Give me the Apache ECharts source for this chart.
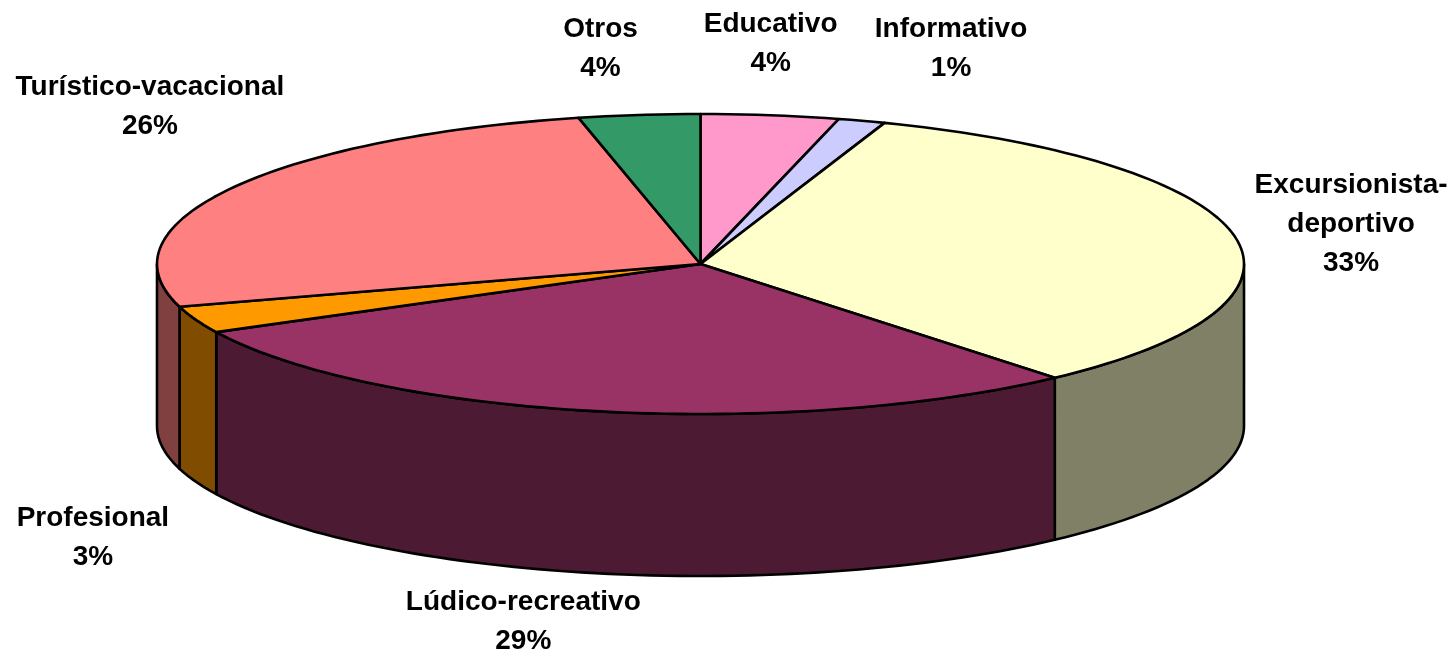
<!DOCTYPE html>
<html><head><meta charset="utf-8">
<style>html,body{margin:0;padding:0;background:#fff}#c{width:1452px;height:654px}</style>
<script src="https://cdn.jsdelivr.net/npm/echarts@6/dist/echarts.min.js"></script>
</head><body><div id="c"></div>
<script>
// Data, clockwise from 12 o'clock
const categories = ['Educativo','Informativo','Excursionista-\ndeportivo','Lúdico-recreativo','Profesional','Turístico-vacacional','Otros'];
const shares = [4.1,1.4,33.2,28.8,2.9,26.0,3.6];
const percentLabels = ['4%','1%','33%','29%','3%','26%','4%'];
// Styles
const topColors = ['#FF99CC','#CCCCFF','#FFFFCC','#993366','#FF9900','#FF8080','#339966'];
const sideColors = ['#804D66','#666680','#808066','#4D1A33','#804D00','#804040','#1A4D33'];
// Label centres in axis units
const labelX = [0.129,0.461,1.197,-0.326,-1.118,-1.013,-0.184];
const labelY = [1.467,1.433,0.267,-2.387,-1.826,1.05,1.433];
const DEPTH = 1.08, FONT = 28;

const total = shares.reduce((a,b)=>a+b,0);
let cum = 0;
const rows = shares.map((v,i)=>{const s=cum;cum+=v;return [s/total*360,cum/total*360,i];});
const rad = d=>d*Math.PI/180;

function renderItem(params, api){
  const a0=api.value(0), a1=api.value(1), i=api.value(2);
  const pt=(deg,drop)=>api.coord([Math.sin(rad(deg)),Math.cos(rad(deg))-(drop||0)]);
  const arc=(from,to,drop)=>{const n=Math.max(2,Math.ceil((to-from)/1.5));const r=[];
    for(let k=0;k<=n;k++) r.push(pt(from+(to-from)*k/n,drop));return r;};
  const line={stroke:'#000',lineWidth:2.6,lineJoin:'round'};
  const children=[];
  const w0=Math.max(a0,90), w1=Math.min(a1,270);
  if(w1>w0){
    children.push({type:'polygon',z2:1,shape:{points:arc(w0,w1,0).concat(arc(w0,w1,DEPTH).reverse())},
      style:Object.assign({fill:sideColors[i]},line)});
  }
  children.push({type:'polygon',z2:2,shape:{points:[api.coord([0,0])].concat(arc(a0,a1,0))},
    style:Object.assign({fill:topColors[i]},line)});
  const c=api.coord([labelX[i],labelY[i]]);
  children.push({type:'text',z2:3,style:{text:categories[i]+'\n'+percentLabels[i],x:c[0],y:c[1],align:'center',verticalAlign:'middle',
    font:'bold '+FONT+'px "Liberation Sans", Arial, sans-serif',lineHeight:39,fill:'#000'}});
  return {type:'group',children};
}
const chart=echarts.init(document.getElementById('c'),null,{renderer:'canvas'});
chart.setOption({
  animation:false,
  grid:{left:157,right:208,top:114,bottom:240},
  xAxis:{type:'value',min:-1,max:1,show:false},
  yAxis:{type:'value',min:-1,max:1,show:false},
  series:[{type:'custom',coordinateSystem:'cartesian2d',clip:false,renderItem,data:rows,
    encode:{x:0,y:1}}]
});
</script></body></html>
